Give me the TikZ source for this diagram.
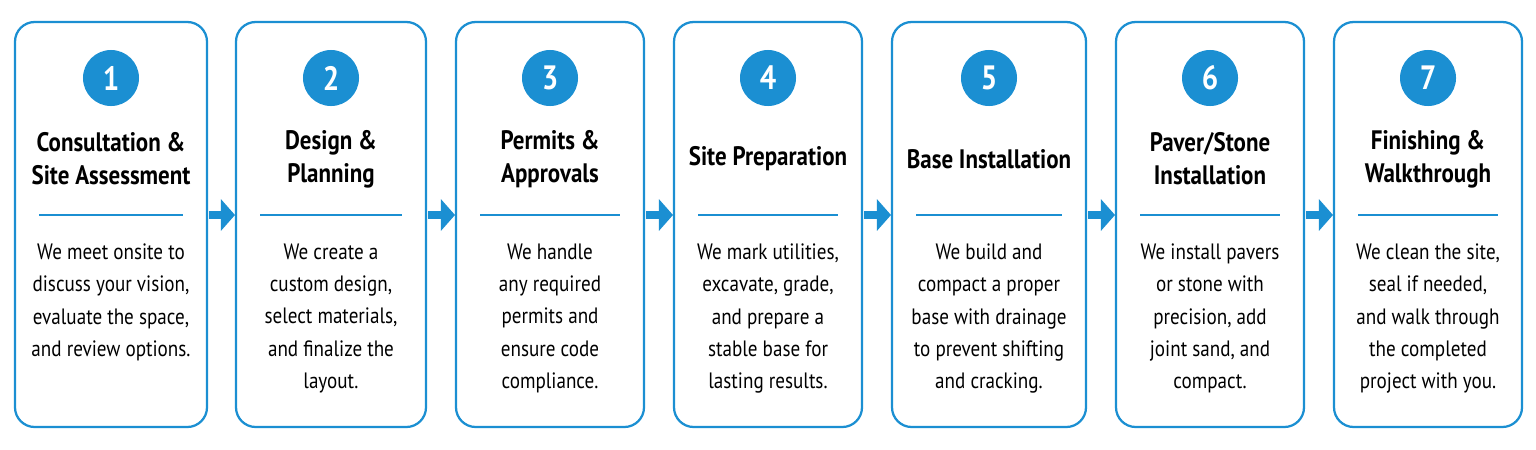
\documentclass[tikz,border=0pt]{standalone}
\usepackage{fontspec}
\setmainfont{PT Sans}[FakeStretch=0.86]
\usetikzlibrary{arrows.meta}
\definecolor{stepblue}{HTML}{1B8FD2}
\begin{document}
\begin{tikzpicture}[x=0.025cm,y=-0.025cm,
badge/.style={circle,fill=stepblue,text=white,minimum size=1.4cm,inner sep=0pt,font=\bfseries\fontsize{24}{24}\selectfont},
heading/.style={align=center,font=\bfseries\fontsize{19}{23.5}\selectfont},
body/.style={align=center,anchor=north,font=\fontsize{15.8}{22.9}\selectfont},
flow/.style={draw=stepblue,line width=5.5pt,-{Triangle[length=10pt,width=22pt]}}]
\useasboundingbox (0,0) rectangle (1536,449);
\foreach \n/\xa/\w/\head/\text in {
1/15/192/{Consultation \&\\Site Assessment}/{We meet onsite to\\discuss your vision,\\evaluate the space,\\and review options.},
2/236/190/{Design \&\\Planning}/{We create a\\custom design,\\select materials,\\and finalize the\\layout.},
3/456/188/{Permits \&\\Approvals}/{We handle\\any required\\permits and\\ensure code\\compliance.},
4/674/188/{Site Preparation}/{We mark utilities,\\excavate, grade,\\and prepare a\\stable base for\\lasting results.},
5/892/194/{Base Installation}/{We build and\\compact a proper\\base with drainage\\to prevent shifting\\and cracking.},
6/1116/188/{Paver/Stone\\Installation}/{We install pavers\\or stone with\\precision, add\\joint sand, and\\compact.},
7/1334/188/{Finishing \&\\Walkthrough}/{We clean the site,\\seal if needed,\\and walk through\\the completed\\project with you.}}{
  \draw[draw=stepblue,line width=1.6pt,rounded corners=14pt] (\xa,22) rectangle ++(\w,405);
  \coordinate (mid\n) at (\xa+\w/2,0);
  \node[badge] (badge\n) at (mid\n |- 0,78) {\n};
  \node[heading] (head\n) at (mid\n |- 0,159) {\head};
  \draw[stepblue,line width=1.2pt] (\xa+24,215) -- (\xa+\w-24,215);
  \node[body] (body\n) at (mid\n |- 0,239) {\text};
}
% connectors between cards
\foreach \xa/\xb in {207/236,426/456,644/674,862/892,1086/1116,1304/1334}{
  \coordinate (from) at (\xa+2,215);
  \coordinate (to) at (\xb-1,215);
  \draw[flow] (from) -- (to);
}
\end{tikzpicture}
\end{document}
